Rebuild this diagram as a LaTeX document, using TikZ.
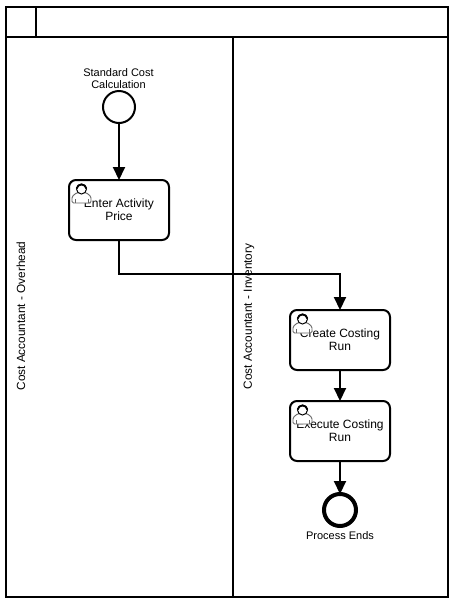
\documentclass[tikz,border=0pt]{standalone}
\usepackage{fontspec}
\setmainfont{Liberation Sans}
\usetikzlibrary{arrows.meta,calc}
\tikzset{
  lane/.style={draw=black,line width=2pt,fill=none,inner sep=0pt,outer sep=0pt,minimum width=#1},
  taskbox/.style={draw=black,line width=2pt,rounded corners=7pt,fill=white,minimum width=100pt,minimum height=60pt,inner sep=0pt,outer sep=0pt,align=center,font=\fontsize{12}{13}\selectfont},
  startev/.style={circle,draw=black,line width=2pt,fill=white,minimum size=32pt,inner sep=0pt,outer sep=0pt},
  endev/.style={circle,draw=black,line width=4pt,fill=white,minimum size=32pt,inner sep=0pt,outer sep=0pt},
  small/.style={font=\fontsize{11}{12}\selectfont,align=center,inner sep=0pt},
  lanelabel/.style={font=\fontsize{11.8}{13}\selectfont,rotate=90,inner sep=0pt},
  flow/.style={draw=black,line width=2pt,-{Triangle[length=13pt,width=12pt]}},
  usericon/.pic={
    \draw[draw=black!60,fill=white,line width=0.9pt,rounded corners=1.5pt]
      (-10,8) -- (-10,1.5) -- (-5,-2.5) -- (4,-2.5) -- (9,1.5) -- (9,8) -- cycle;
    \draw[draw=black!60,line width=0.7pt] (-7,8) -- (-7,3.5) (6,8) -- (6,3.5);
    \draw[black,fill=white,line width=1pt] (-0.5,-6) circle (5);
    \draw[black,line width=1.8pt] (-5.4,-6.5) .. controls (-4,-11.8) and (3,-11.8) .. (4.4,-6.5);
  }
}
\begin{document}
\begin{tikzpicture}[x=1pt,y=-1pt]
\useasboundingbox (0,0) rectangle (454,603);
\node[lane=442pt,minimum height=30pt,anchor=north west] (head) at (6,6.5) {};
\node[lane=30pt,minimum height=30pt,anchor=north west] (corner) at (6,6.5) {};
\node[lane=227pt,minimum height=560.5pt,anchor=north west] (laneA) at (6,36.5) {};
\node[lane=215pt,minimum height=560.5pt,anchor=north west] (laneB) at (233,36.5) {};
\node[lanelabel] (labA) at (21,316) {Cost Accountant - Overhead};
\node[lanelabel] (labB) at (249,316.5) {Cost Accountant - Inventory};

\node[startev] (start) at (119,107) {};
\node[small,anchor=south] (startlab) at (118.5,89) {Standard Cost\\Calculation};
\node[taskbox] (t1) at (119,210) {Enter Activity\\Price};
\node[taskbox] (t2) at (340,340) {Create Costing\\Run};
\node[taskbox] (t3) at (340,431) {Execute Costing\\Run};
\node[endev] (finish) at (340,510) {};
\node[small,anchor=north] (endlab) at (340,531.5) {Process Ends};

\pic at (82,195) {usericon};
\pic at (303,325) {usericon};
\pic at (303,416) {usericon};

\coordinate (bend) at (119,274);
\draw[flow] (start) -- (t1);
\draw[flow] (t1.south) |- (bend) -| (t2.north);
\draw[flow] (t2) -- (t3);
\draw[flow] (t3) -- (finish);
\end{tikzpicture}
\end{document}
